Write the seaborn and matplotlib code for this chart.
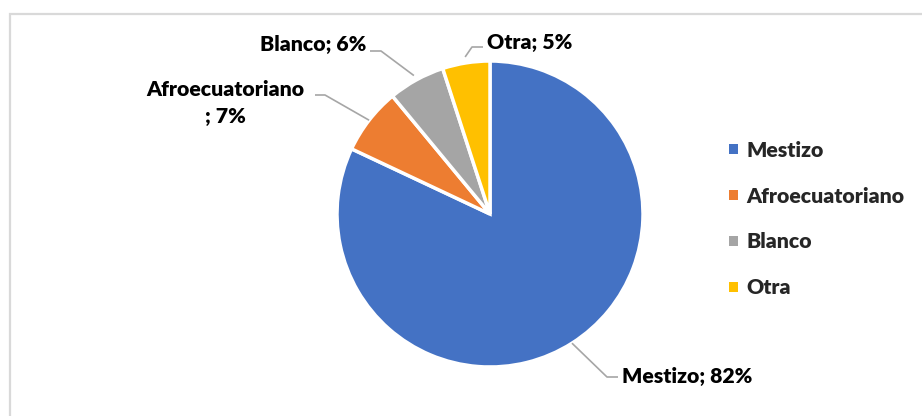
import matplotlib
matplotlib.use("Agg")
import matplotlib.pyplot as plt
import matplotlib.patches as mpatches
import numpy as np
import seaborn as sns

# Composition by self-identified ethnicity (percent)
categories = ["Mestizo", "Afroecuatoriano", "Blanco", "Otra"]
shares = [82, 7, 6, 5]
point_labels = ["Mestizo; 82%", "Afroecuatoriano\n; 7%", "Blanco; 6%", "Otra; 5%"]
colors = ["#4472C4", "#ED7D31", "#A5A5A5", "#FFC000"]

sns.set_theme(style="white")
plt.rcParams["font.family"] = ["Lato", "DejaVu Sans"]
plt.rcParams["font.weight"] = "heavy"

W, H = 922, 416
fig = plt.figure(figsize=(W / 100, H / 100), dpi=100)
ax = fig.add_axes([0, 0, 1, 1])

# Thin frame around the chart area
fig.patches.append(mpatches.Rectangle((9.5 / W, -0.1), 1.2, 1.1 - 13.5 / H,
                                      transform=fig.transFigure, fill=False,
                                      edgecolor="#D9D9D9", linewidth=1.6))

cx, cy, r = 490, 202, 153
wedges, _ = ax.pie(shares, colors=colors, startangle=90, counterclock=False,
                   center=(cx, cy), radius=r, frame=True,
                   wedgeprops=dict(edgecolor="white", linewidth=2.5))
ax.set_xlim(0, W)
ax.set_ylim(0, H)
ax.set_aspect("equal")
ax.axis("off")

# Label layout: elbow point, end of horizontal leader, text anchor, alignment
layout = [
    dict(elbow=(607, H - 377), end=(618, H - 377), text=(622, H - 377), ha="left", off=0),
    dict(elbow=(325, H - 95), end=(315, H - 95), text=(225, H - 103), ha="center", off=0),
    dict(elbow=(381, H - 51), end=(370, H - 51), text=(366, H - 45), ha="right", off=5),
    dict(elbow=(472, H - 47), end=(483, H - 47), text=(487, H - 43), ha="left", off=6),
]
fs = 15.3
for w, lab, lay in zip(wedges, point_labels, layout):
    mid = np.deg2rad((w.theta1 + w.theta2) / 2)
    px = cx + (r + lay["off"]) * np.cos(mid)
    py = cy + (r + lay["off"]) * np.sin(mid)
    ex, ey = lay["elbow"]
    hx, hy = lay["end"]
    ax.plot([px, ex, hx], [py, ey, hy], color="#A6A6A6", linewidth=1.2,
            solid_capstyle="butt")
    ax.text(lay["text"][0], lay["text"][1], lab, ha=lay["ha"], va="center",
            fontsize=fs, fontweight="heavy", color="#000000",
            multialignment="center", linespacing=1.5)

handles = [mpatches.Patch(facecolor=c, edgecolor="none", label=n)
           for c, n in zip(colors, categories)]
leg = fig.legend(handles=handles, loc="center left",
                 bbox_to_anchor=(729 / W, 1 - 219 / H), frameon=False,
                 prop=dict(family=["Lato", "DejaVu Sans"], weight="heavy", size=fs),
                 handlelength=0.4, handleheight=0.4, handletextpad=0.4,
                 labelspacing=1.27, borderaxespad=0, borderpad=0)

fig.savefig("out.png", dpi=100, facecolor="white")
